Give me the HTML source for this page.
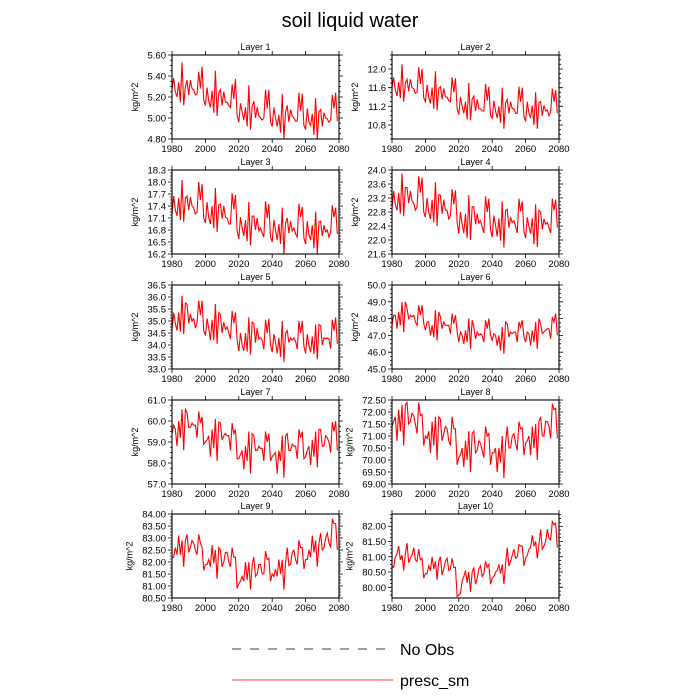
<!DOCTYPE html>
<html><head><meta charset="utf-8"><style>
body{margin:0;background:#fff}
svg{display:block;font-family:"Liberation Sans",sans-serif}
</style></head><body>
<svg id="chart" width="700" height="700" viewBox="0 0 700 700">
<text x="350" y="27" text-anchor="middle" font-size="20">soil liquid water</text>
<g>
<line x1="232" y1="649" x2="388" y2="649" stroke="#000" stroke-width="0.8" stroke-dasharray="9,9"/>
<text x="400" y="655" font-size="16">No Obs</text>
<line x1="232" y1="680" x2="393" y2="680" stroke="#f00" stroke-width="0.8"/>
<text x="400" y="686" font-size="16">presc_sm</text>
</g>
</svg>
<script>
const years=[];for(let y=1980;y<=2079;y++)years.push(y);
const xTicks=[1980,2000,2020,2040,2060,2080];
const layerNames=["Layer 1","Layer 2","Layer 3","Layer 4","Layer 5","Layer 6","Layer 7","Layer 8","Layer 9","Layer 10"];
const yMins=[4.8,10.5,16.2,21.6,33.0,45.0,57.0,69.0,80.5,79.65];
const yMaxs=[5.6,12.3,18.3,24.0,36.5,50.0,61.0,72.5,84.0,82.4];
const yTicks=[[4.8,5.0,5.2,5.4,5.6],[10.8,11.2,11.6,12.0],[16.2,16.5,16.8,17.1,17.4,17.7,18.0,18.3],[21.6,22.0,22.4,22.8,23.2,23.6,24.0],[33.0,33.5,34.0,34.5,35.0,35.5,36.0,36.5],[45,46,47,48,49,50],[57,58,59,60,61],[69,69.5,70,70.5,71,71.5,72,72.5],[80.5,81,81.5,82,82.5,83,83.5,84],[80,80.5,81,81.5,82]];
const yDecimals=[2,1,1,1,1,1,1,2,2,2];
const layer1=[5.28,5.38,5.25,5.20,5.34,5.15,5.53,5.12,5.30,5.36,5.22,5.36,5.28,5.27,5.22,5.23,5.44,5.28,5.49,5.17,
5.12,5.29,5.16,5.10,5.26,5.05,5.45,5.02,5.24,5.27,5.12,5.25,5.15,5.15,5.12,5.10,5.32,5.18,5.37,5.02,
4.96,5.14,5.06,4.98,5.10,4.92,5.31,4.89,5.11,5.16,5.00,5.10,5.02,5.00,4.98,5.00,5.27,5.09,5.27,4.96,
4.92,5.10,5.00,4.92,5.03,4.86,5.23,4.80,5.06,5.12,4.96,5.08,5.02,5.00,4.97,4.97,5.24,5.07,5.23,4.93,
4.89,5.09,4.96,4.93,5.04,4.84,5.19,4.80,5.06,5.08,4.92,5.05,5.00,4.99,4.96,4.98,5.22,5.09,5.24,4.97];
const layer2=[11.6,11.82,11.55,11.42,11.72,11.38,12.1,11.3,11.7,11.78,11.52,11.78,11.6,11.58,11.48,11.5,12.04,11.68,12.0,11.38,
11.3,11.66,11.4,11.26,11.6,11.15,11.95,11.12,11.58,11.62,11.35,11.58,11.4,11.4,11.32,11.3,11.82,11.5,11.8,11.15,
11.02,11.4,11.2,11.05,11.3,10.92,11.7,10.9,11.35,11.42,11.1,11.35,11.15,11.15,11.1,11.1,11.68,11.32,11.62,11.0,
10.95,11.32,11.1,10.95,11.2,10.85,11.6,10.72,11.28,11.35,11.05,11.3,11.15,11.15,11.05,11.05,11.62,11.3,11.6,10.98,
10.88,11.3,11.05,10.95,11.22,10.8,11.5,10.72,11.28,11.3,11.0,11.22,11.1,11.12,11.0,11.08,11.58,11.3,11.55,11.05];
const layer3=[17.2,17.65,17.3,17.15,17.6,17.05,18.05,17.0,17.6,17.65,17.3,17.62,17.4,17.35,17.2,17.25,18.0,17.55,17.95,17.1,
16.98,17.5,17.1,16.95,17.4,16.85,17.85,16.75,17.42,17.45,17.08,17.4,17.12,17.1,16.95,16.95,17.72,17.32,17.68,16.78,
16.58,17.12,16.85,16.65,17.05,16.52,17.5,16.42,17.15,17.15,16.8,17.1,16.78,16.85,16.72,16.62,17.52,17.1,17.45,16.62,
16.5,17.05,16.8,16.55,16.95,16.45,17.36,16.2,16.98,17.1,16.72,17.02,16.78,16.85,16.7,16.62,17.46,17.12,17.38,16.6,
16.45,17.02,16.68,16.55,16.92,16.35,17.26,16.2,17.0,17.02,16.65,16.92,16.75,16.8,16.62,16.75,17.42,17.12,17.36,16.7];
const layer4=[22.9,23.4,23.0,22.85,23.35,22.75,23.9,22.68,23.5,23.5,23.05,23.4,23.1,23.05,22.85,22.95,23.82,23.35,23.78,22.8,
22.65,23.2,22.8,22.6,23.15,22.5,23.65,22.4,23.3,23.28,22.75,23.15,22.85,22.85,22.6,22.7,23.45,23.02,23.42,22.5,
22.18,22.8,22.45,22.2,22.75,22.05,23.28,22.0,22.95,22.95,22.45,22.75,22.48,22.55,22.38,22.2,23.25,22.8,23.18,22.3,
22.08,22.7,22.42,22.1,22.62,21.98,23.1,21.78,22.85,22.88,22.35,22.65,22.5,22.55,22.38,22.2,23.18,22.82,23.1,22.25,
22.05,22.65,22.38,22.18,22.62,21.88,23.02,21.8,22.85,22.8,22.3,22.6,22.45,22.5,22.35,22.2,23.18,22.85,23.15,22.35];
const layer5=[34.6,35.35,34.9,34.6,35.35,34.55,36.05,34.45,35.75,35.7,34.9,35.3,35.0,35.1,34.7,34.95,35.85,35.25,35.85,34.6,
34.4,35.1,34.7,34.2,35.05,34.2,35.7,34.05,35.35,35.25,34.5,34.95,34.65,34.75,34.5,34.25,35.42,34.9,35.35,34.2,
33.75,34.5,34.0,33.75,34.5,33.72,35.15,33.6,34.95,34.9,34.1,34.7,34.25,34.3,34.2,33.82,35.05,34.5,35.1,34.0,
33.7,34.45,34.1,33.65,34.3,33.5,35.0,33.3,34.5,34.6,34.1,34.3,34.2,34.3,34.15,33.82,35.0,34.5,35.0,33.95,
33.65,34.45,34.0,33.7,34.35,33.62,34.85,33.4,34.85,34.8,34.0,34.3,34.25,34.3,34.25,33.85,35.05,34.6,35.15,34.05];
const layer6=[47.6,48.2,48.2,47.4,48.4,47.6,49.0,47.2,49.0,48.6,48.0,48.2,48.1,48.2,47.8,47.6,48.8,48.2,48.8,47.7,
47.3,47.8,47.8,47.0,47.6,46.9,48.5,46.7,48.4,48.1,47.4,47.8,47.6,47.6,47.6,47.1,48.3,47.7,48.2,47.2,
46.6,47.2,47.0,46.5,47.3,46.6,48.0,46.2,47.9,47.5,46.8,47.2,47.0,47.1,47.0,46.6,47.9,47.4,48.0,47.0,
46.7,47.1,47.0,46.4,47.0,46.1,47.5,45.9,47.8,47.7,46.9,47.2,47.1,47.2,47.2,46.6,47.8,47.5,47.9,46.9,
46.6,47.2,47.1,46.4,47.3,46.6,47.8,46.2,48.0,47.7,47.1,47.2,47.3,47.4,47.4,46.8,48.1,47.8,48.3,47.0];
const layer7=[59.4,59.8,59.6,58.8,60.0,59.2,60.55,58.6,60.55,60.4,59.7,59.7,59.9,59.8,59.8,59.2,60.45,59.9,60.2,58.9,
59.0,59.1,59.3,58.3,59.6,58.7,60.1,58.1,59.95,59.9,59.1,59.3,59.4,59.3,59.3,58.6,59.9,59.4,59.6,58.2,
58.2,58.4,58.6,57.7,58.8,58.1,59.5,57.5,59.4,59.3,58.6,58.6,58.8,58.7,58.7,58.1,59.5,59.0,59.4,58.1,
58.3,58.4,58.5,57.5,58.6,58.1,59.3,57.3,59.3,59.4,58.6,58.6,58.9,58.8,58.8,58.2,59.6,59.2,59.5,58.2,
58.3,58.6,58.8,57.9,59.1,58.3,59.5,57.8,59.6,59.6,58.8,58.8,59.3,59.2,59.0,58.5,59.95,59.5,60.0,58.6];
const layer8=[71.4,71.6,71.8,70.8,72.1,71.2,72.3,70.6,72.3,72.4,71.5,71.6,71.95,71.85,71.5,71.1,72.4,71.85,71.9,70.6,
71.0,70.9,71.2,70.3,71.6,70.6,71.8,70.0,71.8,71.7,70.8,71.1,71.4,71.3,70.8,70.6,71.8,71.3,71.3,69.8,
70.1,70.2,70.5,69.7,70.8,70.0,71.2,69.5,71.1,71.2,70.3,70.4,70.8,70.7,70.4,70.1,71.4,71.0,71.1,69.8,
70.3,70.3,70.5,69.5,70.5,69.9,71.0,69.25,70.7,71.4,70.5,70.5,71.0,71.1,70.7,70.4,71.6,71.3,71.35,70.2,
70.7,70.8,71.0,70.2,71.4,70.5,71.5,70.0,71.6,71.8,71.0,71.0,71.6,71.6,71.4,70.9,72.35,72.1,72.15,70.9];
const layer9=[82.2,82.2,82.6,82.3,83.1,82.3,82.9,81.8,82.9,83.15,82.4,82.6,82.9,82.8,82.5,82.3,83.15,82.8,82.6,81.65,
81.9,81.9,82.1,81.8,82.7,81.95,82.5,81.3,82.6,82.5,81.8,82.0,82.4,82.4,82.0,81.8,82.6,82.2,82.2,80.9,
81.1,81.2,81.4,81.2,82.0,81.25,82.0,80.85,81.9,82.2,81.4,81.5,81.9,81.9,81.5,81.5,82.45,82.1,82.15,81.2,
81.5,81.4,81.7,81.4,82.1,81.5,82.1,80.85,82.0,82.6,81.85,81.9,82.4,82.5,82.1,81.9,82.9,82.6,82.6,81.7,
82.1,82.1,82.5,82.2,83.1,82.4,82.9,81.8,82.8,83.2,82.5,82.6,83.0,83.2,82.8,82.6,83.8,83.6,83.6,82.5];
const layer10=[80.7,80.65,81.0,81.1,81.35,80.9,81.05,80.55,81.1,81.45,80.8,80.95,81.05,81.3,80.9,80.85,81.25,80.9,80.95,80.3,
80.45,80.45,80.7,80.55,81.0,80.6,80.85,80.25,80.85,81.0,80.4,80.6,80.85,80.95,80.55,80.6,80.95,80.65,80.65,79.7,
79.75,79.8,80.2,80.35,80.55,80.15,80.5,79.85,80.5,80.65,80.1,80.3,80.6,80.7,80.35,80.45,80.85,80.65,80.75,80.1,
80.3,80.35,80.5,80.55,80.75,80.45,80.75,80.1,80.75,81.3,80.7,80.85,81.05,81.25,80.95,81.0,81.4,81.35,81.35,80.7,
80.95,81.05,81.25,81.3,81.7,81.35,81.5,80.95,81.4,81.9,81.25,81.35,81.5,81.9,81.6,81.55,82.15,82.05,82.1,81.3];
const series=[layer1,layer2,layer3,layer4,layer5,layer6,layer7,layer8,layer9,layer10];

const NS="http://www.w3.org/2000/svg";
const svg=document.getElementById('chart');
function mk(tag,attrs,parent){const e=document.createElementNS(NS,tag);for(const k in attrs)e.setAttribute(k,attrs[k]);parent.appendChild(e);return e;}
const colX=[172,392],rowY=[55,170,285,400,514],W=167,H=84;
for(let i=0;i<10;i++){
  const x0=colX[i%2],y0=rowY[Math.floor(i/2)];
  const g=mk('g',{},svg);
  
  
  const xs=v=>x0+(v-1980)/100*W;
  const ys=v=>y0+H-(v-yMins[i])/(yMaxs[i]-yMins[i])*H;
  const t=mk('text',{x:x0+W/2,y:y0-5,'text-anchor':'middle','font-size':9},g);t.textContent=layerNames[i];
  
  
  let d='';
  for(const xt of xTicks){const X=xs(xt);d+=`M${X},${y0+H}v4M${X},${y0}v-4`;
    const tx=mk('text',{x:X,y:y0+H+13,'text-anchor':'middle','font-size':9.5},g);tx.textContent=xt;
    
    }
  const yt=yTicks[i];const step=yt[1]-yt[0];const minor=step/4;
  for(let k=-8;k<=4*yt.length+8;k++){const v=yt[0]+k*minor;if(v<yMins[i]-1e-6||v>yMaxs[i]+1e-6)continue;const Y=ys(v);
    const L=(k%4===0)?4:2;
    d+=`M${x0},${Y}h${-L}M${x0+W},${Y}h${L}`;}
  const tk=mk('path',{d:d,stroke:'#000','stroke-width':0.8,fill:'none'},g);
  
  
  let maxw=0;
  for(const v of yt){const ty=mk('text',{x:x0-6,y:ys(v)+3.5,'text-anchor':'end','font-size':9.5},g);ty.textContent=v.toFixed(yDecimals[i]);
    
    
    maxw=Math.max(maxw,ty.textContent.length);}
  const lx=x0-8-maxw*5.3-5;
  const yl=mk('text',{x:lx,y:y0+H/2,'text-anchor':'middle','font-size':9,transform:`rotate(-90 ${lx} ${y0+H/2})`},g);yl.textContent='kg/m^2';
  
  
  const pts=series[i].map((v,k)=>xs(years[k]).toFixed(2)+','+ys(v).toFixed(2)).join(' ');
  const pl=mk('polyline',{points:pts,fill:'none',stroke:'#f00','stroke-width':1.1},g);
  
  
  const bx=mk('rect',{x:x0,y:y0,width:W,height:H,fill:'none',stroke:'#000','stroke-width':1.1},g);
  
  
}
</script>
</body></html>
